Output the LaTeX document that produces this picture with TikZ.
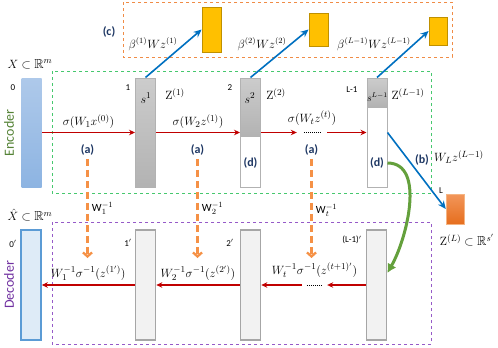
\documentclass[tikz,border=0pt]{standalone}
\usepackage{amsmath}
\usepackage{amssymb}
\usepackage[no-math]{fontspec}
\setmainfont{Carlito}
\usepackage{xcolor}
\usetikzlibrary{arrows.meta,positioning}
\definecolor{encgreen}{RGB}{70,200,110}
\definecolor{decpurple}{RGB}{150,90,200}
\definecolor{boxorange}{RGB}{240,140,70}
\definecolor{fwdred}{RGB}{192,0,0}
\definecolor{invorange}{RGB}{245,145,70}
\definecolor{projblue}{RGB}{0,112,192}
\definecolor{tagnavy}{RGB}{31,56,100}
\definecolor{barline}{RGB}{178,178,178}
\definecolor{skipgreen}{RGB}{100,160,60}
\definecolor{enctext}{RGB}{84,130,53}
\definecolor{dectext}{RGB}{112,48,160}
\definecolor{inlight}{RGB}{174,201,234}
\definecolor{indark}{RGB}{141,180,226}
\definecolor{decblue}{RGB}{91,155,213}
\definecolor{decfill}{RGB}{222,235,247}
\definecolor{outlight}{RGB}{242,150,90}
\definecolor{outdark}{RGB}{230,110,30}
\definecolor{outline}{RGB}{245,180,130}
\definecolor{coeffill}{RGB}{255,192,0}
\definecolor{coefline}{RGB}{191,144,0}

\begin{document}
\begin{tikzpicture}[x=1pt, y=-1pt, font=\fontsize{13}{15}\selectfont,
  bar/.style={draw=barline, line width=1pt, minimum width=20pt, minimum height=109pt, inner sep=0pt},
  graybar/.style={bar, top color=black!20, bottom color=black!30},
  topcap/.style={graybar, anchor=north},
  decbar/.style={draw=black!35, line width=1.6pt, fill=black!5, minimum width=20pt, minimum height=110pt, inner sep=0pt},
  coef/.style={draw=coefline, fill=coeffill, line width=0.8pt, inner sep=0pt, minimum width=19pt},
  num/.style={font=\fontsize{9}{10}\selectfont},
  tag/.style={font=\fontsize{12}{14}\selectfont\bfseries, text=tagnavy},
  fwd/.style={-{Stealth[length=6pt,width=5.5pt]}, draw=fwdred, line width=1.4pt},
  inv/.style={-{Straight Barb[length=4pt,width=9pt]}, draw=invorange, line width=2.3pt, dash pattern=on 7pt off 4pt},
  proj/.style={-{Stealth[length=8pt,width=7pt]}, draw=projblue, line width=1.6pt},
  region/.style={dashed, line width=1pt}]
  \useasboundingbox (0,0) rectangle (498,348);
  \draw[region, draw=boxorange] (123,2) rectangle (452,57);
  \draw[region, draw=encgreen] (52,71) rectangle (431,193);
  \draw[region, draw=decpurple] (52,222) rectangle (431,344);

  \node[bar, draw=none, top color=inlight, bottom color=indark] (in0) at (31.5,132.5) {};
  \node[graybar] (enc1) at (145.5,132.5) {};
  \node[bar, fill=white] (enc2) at (250.5,132.5) {};
  \node[topcap, minimum height=58pt] (top2) at (enc2.north) {};
  \node[bar, fill=white] (encL) at (377,132.5) {};
  \node[topcap, minimum height=29pt] (topL) at (encL.north) {};

  \node[decbar, draw=decblue, fill=decfill] (dec0) at (31,285) {};
  \node[decbar] (dec1) at (145.5,285) {};
  \node[decbar] (dec2) at (250.5,285) {};
  \node[decbar] (decL) at (376.5,285) {};

  \node[draw=outline, top color=outlight, bottom color=outdark, minimum width=18pt, minimum height=30pt, inner sep=0pt] (outL) at (455,209) {};
  \node[coef, minimum height=45pt] (c1) at (211.5,29.5) {};
  \node[coef, minimum height=33pt] (c2) at (318.5,29.5) {};
  \node[coef, minimum height=28pt, minimum width=18pt] (c3) at (438,31) {};

  \node (xin) at (30,64) {$X \subset \mathbb{R}^m$};
  \node[inner sep=1pt] (xout) at (30,215) {$\hat{X} \subset \mathbb{R}^m$};
  \node[num] (n0) at (13,88) {0};
  \node[num] (n1) at (128,88) {1};
  \node[num] (n2) at (230,88) {2};
  \node[num] (nL) at (352,90) {L-1};
  \node[num] (m0) at (13,244) {0$'$};
  \node[num] (m1) at (128,243) {1$'$};
  \node[num] (m2) at (230,243) {2$'$};
  \node[num] (mL) at (352,240) {(L-1)$'$};
  \node[num] (nOut) at (441,191) {L};

  \node (s1) at (146,98) {$s^1$};
  \node (z1) at (175,94) {$\mathrm{Z}^{(1)}$};
  \node (s2) at (250,98) {$s^2$};
  \node (z2) at (276,94) {$\mathrm{Z}^{(2)}$};
  \node[font=\fontsize{10}{12}\selectfont] (sL) at (377.5,97) {$s^{L-1}$};
  \node (zL) at (408,94) {$\mathrm{Z}^{(L-1)}$};

  \node[rotate=90, font=\fontsize{14}{16}\selectfont, text=enctext] (enc) at (9,133) {Encoder};
  \node[rotate=90, font=\fontsize{14}{16}\selectfont, text=dectext] (dec) at (9,285) {Decoder};

  \node[tag] (c) at (109,32) {(c)};
  \node[font=\fontsize{12}{14}\selectfont] (b1) at (153,44) {$\beta^{(1)}Wz^{(1)}$};
  \node[font=\fontsize{12}{14}\selectfont] (b2) at (262,44) {$\beta^{(2)}Wz^{(2)}$};
  \node[font=\fontsize{12}{14}\selectfont] (b3) at (374,44) {$\beta^{(L-1)}Wz^{(L-1)}$};

  \node[tag] (a1) at (87.5,150) {(a)};
  \node[tag] (a2) at (197.5,150) {(a)};
  \node[tag] (a3) at (311.5,150) {(a)};
  \node[tag] (d2) at (250.5,163) {(d)};
  \node[tag] (dL) at (377,163) {(d)};
  \node[tag] (bb) at (422,160) {(b)};
  \node (wl) at (459,157) {$W_L z^{(L-1)}$};
  \node (zout) at (467,240) {$\mathrm{Z}^{(L)} \subset \mathbb{R}^{s'}$};

  \node[minimum width=30pt, inner sep=0pt] (dotsE) at (312,132.5) {};
  \node[minimum width=25pt, inner sep=0pt] (dotsD) at (314.5,285) {};
  \draw[densely dotted, line width=1pt] ([xshift=7pt]dotsE.west) -- ([xshift=-7pt]dotsE.east);
  \draw[densely dotted, line width=1pt] ([xshift=5pt]dotsD.west) -- ([xshift=-5pt]dotsD.east);

  \draw[fwd] (in0) -- node[above] {$\sigma(W_1x^{(0)})$} (enc1);
  \draw[fwd] (enc1) -- node[above] {$\sigma(W_2z^{(1)})$} (enc2);
  \draw[fwd] (enc2) -- (dotsE);
  \draw[fwd] (dotsE) -- (encL);
  \node[above=3pt of dotsE] (fwdt) {$\sigma(W_tz^{(t)})$};

  \draw[fwd] (dec1) -- node[above] {$W_1^{-1}\sigma^{-1}(z^{(1')})$} (dec0);
  \draw[fwd] (dec2) -- node[above] {$W_2^{-1}\sigma^{-1}(z^{(2')})$} (dec1);
  \draw[fwd] (decL) -- (dotsD);
  \draw[fwd] (dotsD) -- (dec2);
  \node[above=3pt of dotsD] (invt) {$W_t^{-1}\sigma^{-1}(z^{(t+1)'})$};

  \coordinate (t1) at (87.5,258);
  \coordinate (t2) at (197.5,258);
  \coordinate (t3) at (311.5,258);
  \draw[inv] (a1) -- node[right, pos=0.5, font=\fontsize{11}{13}\selectfont] {W$_1^{-1}$} (t1);
  \draw[inv] (a2) -- node[right, pos=0.5, font=\fontsize{11}{13}\selectfont] {W$_2^{-1}$} (t2);
  \draw[inv] (a3) -- node[right, pos=0.52, font=\fontsize{11}{13}\selectfont] {W$_t^{-1}$} (t3);

  \draw[proj] (enc1.north) -- (c1.west);
  \draw[proj] (enc2.north) -- (c2.west);
  \draw[proj] (encL.north) -- (c3.west);
  \draw[proj] (encL.east) -- (outL.west);

  \draw[-{Latex[length=9pt,width=10pt]}, draw=skipgreen, line width=3pt] (dL.east) to[out=0, in=60, looseness=0.9] ([yshift=12pt]decL.east);
\end{tikzpicture}
\end{document}
